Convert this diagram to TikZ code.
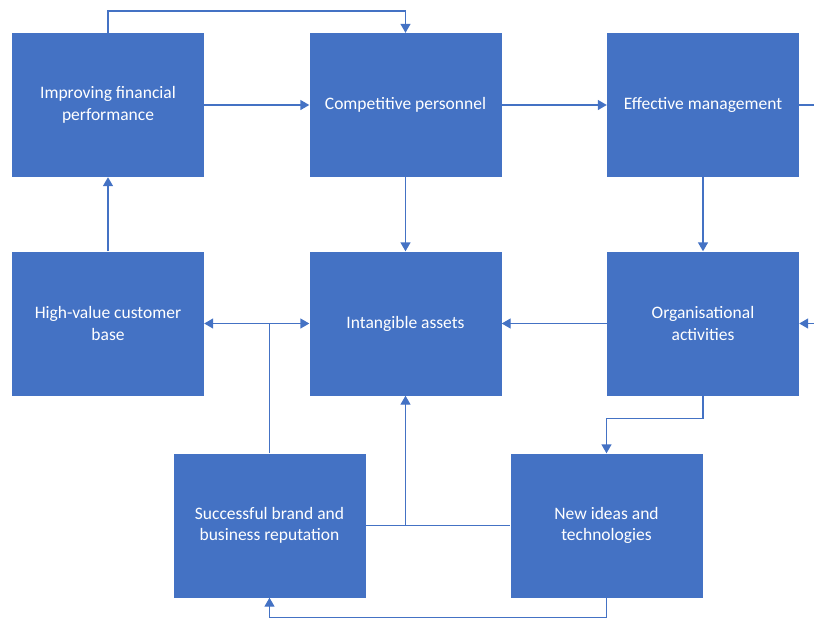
\documentclass[tikz,border=0pt]{standalone}
\usepackage{fontspec}
\setmainfont{Carlito}
\usepackage{tikz}
\usetikzlibrary{arrows.meta,positioning,calc}
\definecolor{OfficeBlue}{HTML}{4472C4}

\tikzset{
  block/.style={fill=OfficeBlue,text=white,minimum width=192pt,minimum height=144pt,
    inner sep=0pt,align=center,font=\fontsize{17.5}{21.5}\selectfont},
  link/.style={OfficeBlue,line width=1.4pt},
  arr/.style={link,-{Triangle[length=9pt,width=10pt]}}
}

\begin{document}
\begin{tikzpicture}[x=1pt,y=-1pt]
  \useasboundingbox (0,0) rectangle (814,619);
  % top row
  \node[block] (fin) at (108,105) {Improving financial\\performance};
  \node[block] (pers) at (405.5,105) {Competitive personnel};
  \node[block] (mgmt) at (703,105) {Effective management};
  % middle row
  \node[block] (cust) at (108,323.5) {High-value customer\\base};
  \node[block] (assets) at (405.5,323.5) {Intangible assets};
  \node[block] (org) at (703,323.5) {Organisational\\activities};
  % bottom row
  \node[block] (brand) at (269.5,525.5) {Successful brand and\\business reputation};
  \node[block] (ideas) at (606.5,525.5) {New ideas and\\technologies};
  % free ends at the right edge
  \coordinate (mgmtout) at (814,105);
  \coordinate (orgin) at (814,323.5);
  \coordinate (split) at (brand.north |- cust.east);
  \coordinate (join) at (assets.south |- brand.east);

  \draw[arr] (fin.north) -- (fin.north |- 0,11) -| (pers.north);
  \draw[arr] (fin.east) -- (pers.west);
  \draw[arr] (pers.east) -- (mgmt.west);
  \draw[link] (mgmt.east) -- (mgmtout);
  \draw[arr] (orgin) -- (org.east);
  \draw[arr] (pers.south) -- (assets.north);
  \draw[arr] (mgmt.south) -- (org.north);
  \draw[arr] (cust.north) -- (fin.south);
  \draw[arr] (org.west) -- (assets.east);
  \draw[link] (brand.north) -- (split);
  \draw[arr] (split) -- (cust.east);
  \draw[arr] (split) -- (assets.west);
  \draw[arr] (org.south) -- ++(0,23) -| (ideas.north);
  \draw[link] (brand.east) -- (ideas.west);
  \draw[arr] (join) -- (assets.south);
  \draw[arr] (ideas.south) -- ++(0,20) -| (brand.south);
\end{tikzpicture}
\end{document}
